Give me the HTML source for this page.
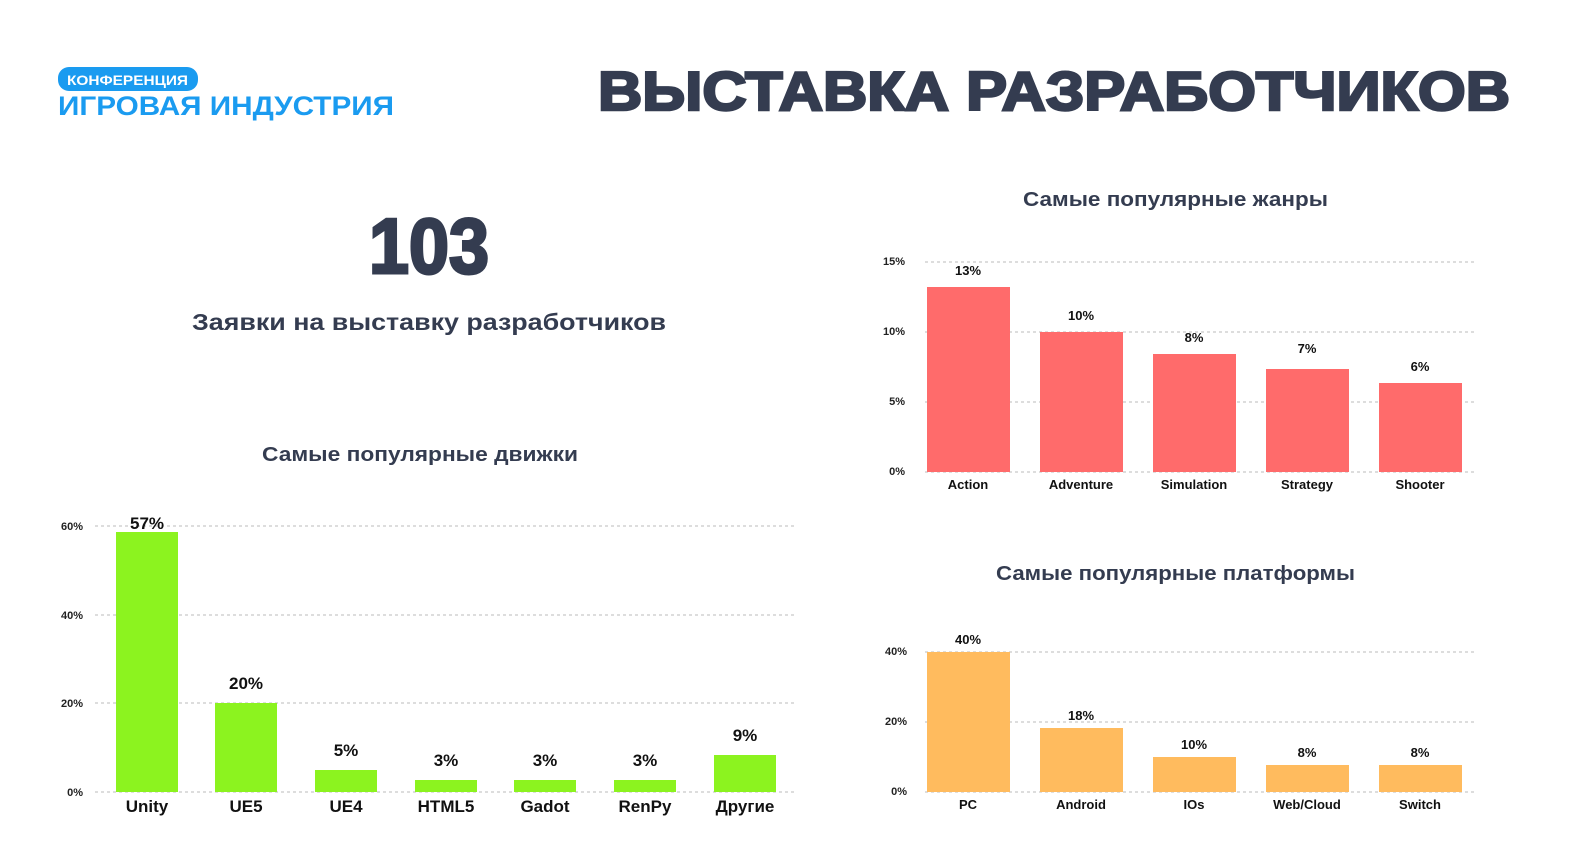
<!DOCTYPE html>
<html><head><meta charset="utf-8"><style>
html,body{margin:0;padding:0;background:#fff;overflow:hidden;width:1583px;height:863px;}
svg{display:block;font-family:"Liberation Sans","DejaVu Sans",sans-serif;}
</style></head><body>
<svg width="1583" height="863" viewBox="0 0 1583 863" xmlns="http://www.w3.org/2000/svg">
<rect width="1583" height="863" fill="#fff"/>
<rect x="58" y="67" width="140" height="24" rx="11" fill="#1a9bf0"/>
<text x="67" y="85" font-size="14" font-weight="bold" fill="#fff" textLength="121" lengthAdjust="spacingAndGlyphs">КОНФЕРЕНЦИЯ</text>
<text x="58" y="115" font-size="27" font-weight="bold" fill="#1a9bf0" textLength="336" lengthAdjust="spacingAndGlyphs">ИГРОВАЯ ИНДУСТРИЯ</text>
<text x="598" y="110" font-size="55" font-weight="900" fill="#343c50" textLength="912" lengthAdjust="spacingAndGlyphs" stroke="#343c50" stroke-width="2.5">ВЫСТАВКА РАЗРАБОТЧИКОВ</text>
<text x="429" y="273" font-size="78" font-weight="bold" fill="#343c50" text-anchor="middle" stroke="#343c50" stroke-width="3" textLength="120" lengthAdjust="spacingAndGlyphs">103</text>
<text x="192" y="330" font-size="23" font-weight="bold" fill="#343c50" textLength="474" lengthAdjust="spacingAndGlyphs">Заявки на выставку разработчиков</text>
<text x="262" y="461" font-size="20" font-weight="bold" fill="#343c50" textLength="316" lengthAdjust="spacingAndGlyphs">Самые популярные движки</text>
<text x="1023" y="206" font-size="20" font-weight="bold" fill="#343c50" textLength="305" lengthAdjust="spacingAndGlyphs">Самые популярные жанры</text>
<text x="996" y="580" font-size="20" font-weight="bold" fill="#343c50" textLength="359" lengthAdjust="spacingAndGlyphs">Самые популярные платформы</text>

<g stroke="#bbb" stroke-dasharray="3,3" stroke-width="1">
<line x1="95" y1="526" x2="797" y2="526"/><line x1="95" y1="615" x2="797" y2="615"/><line x1="95" y1="703" x2="797" y2="703"/><line x1="95" y1="792" x2="797" y2="792"/>
<line x1="925" y1="262" x2="1475" y2="262"/><line x1="925" y1="332" x2="1475" y2="332"/><line x1="925" y1="402" x2="1475" y2="402"/><line x1="925" y1="472" x2="1475" y2="472"/>
<line x1="925" y1="652" x2="1475" y2="652"/><line x1="925" y1="722" x2="1475" y2="722"/><line x1="925" y1="792" x2="1475" y2="792"/>
</g>
<g font-size="11" font-weight="bold" fill="#222" text-anchor="end">
<text x="83" y="530">60%</text><text x="83" y="619">40%</text><text x="83" y="707">20%</text><text x="83" y="796">0%</text>
<text x="905" y="265">15%</text><text x="905" y="335">10%</text><text x="905" y="405">5%</text><text x="905" y="475">0%</text>
<text x="907" y="655">40%</text><text x="907" y="725">20%</text><text x="907" y="795">0%</text>
</g>
<g fill="#8cf31f">
<rect x="116" y="532" width="62" height="260"/><rect x="215" y="703" width="62" height="89"/><rect x="315" y="770" width="62" height="22"/><rect x="415" y="780" width="62" height="12"/><rect x="514" y="780" width="62" height="12"/><rect x="614" y="780" width="62" height="12"/><rect x="714" y="755" width="62" height="37"/>
</g>
<g font-size="17" font-weight="bold" fill="#111" text-anchor="middle">
<text x="147" y="529">57%</text><text x="246" y="689">20%</text><text x="346" y="756">5%</text><text x="446" y="766">3%</text><text x="545" y="766">3%</text><text x="645" y="766">3%</text><text x="745" y="741">9%</text>
<text x="147" y="812">Unity</text><text x="246" y="812">UE5</text><text x="346" y="812">UE4</text><text x="446" y="812">HTML5</text><text x="545" y="812">Gadot</text><text x="645" y="812">RenPy</text><text x="745" y="812">Другие</text>
</g>
<g fill="#ff6b6b">
<rect x="927" y="287" width="83" height="185"/><rect x="1040" y="332" width="83" height="140"/><rect x="1153" y="354" width="83" height="118"/><rect x="1266" y="369" width="83" height="103"/><rect x="1379" y="383" width="83" height="89"/>
</g>
<g font-size="13" font-weight="bold" fill="#111" text-anchor="middle">
<text x="968" y="275">13%</text><text x="1081" y="320">10%</text><text x="1194" y="342">8%</text><text x="1307" y="353">7%</text><text x="1420" y="371">6%</text>
<text x="968" y="489">Action</text><text x="1081" y="489">Adventure</text><text x="1194" y="489">Simulation</text><text x="1307" y="489">Strategy</text><text x="1420" y="489">Shooter</text>
</g>
<g fill="#ffbb5e">
<rect x="927" y="652" width="83" height="140"/><rect x="1040" y="728" width="83" height="64"/><rect x="1153" y="757" width="83" height="35"/><rect x="1266" y="765" width="83" height="27"/><rect x="1379" y="765" width="83" height="27"/>
</g>
<g font-size="13" font-weight="bold" fill="#111" text-anchor="middle">
<text x="968" y="644">40%</text><text x="1081" y="720">18%</text><text x="1194" y="749">10%</text><text x="1307" y="757">8%</text><text x="1420" y="757">8%</text>
<text x="968" y="809">PC</text><text x="1081" y="809">Android</text><text x="1194" y="809">IOs</text><text x="1307" y="809">Web/Cloud</text><text x="1420" y="809">Switch</text>
</g>
</svg>
</body></html>
